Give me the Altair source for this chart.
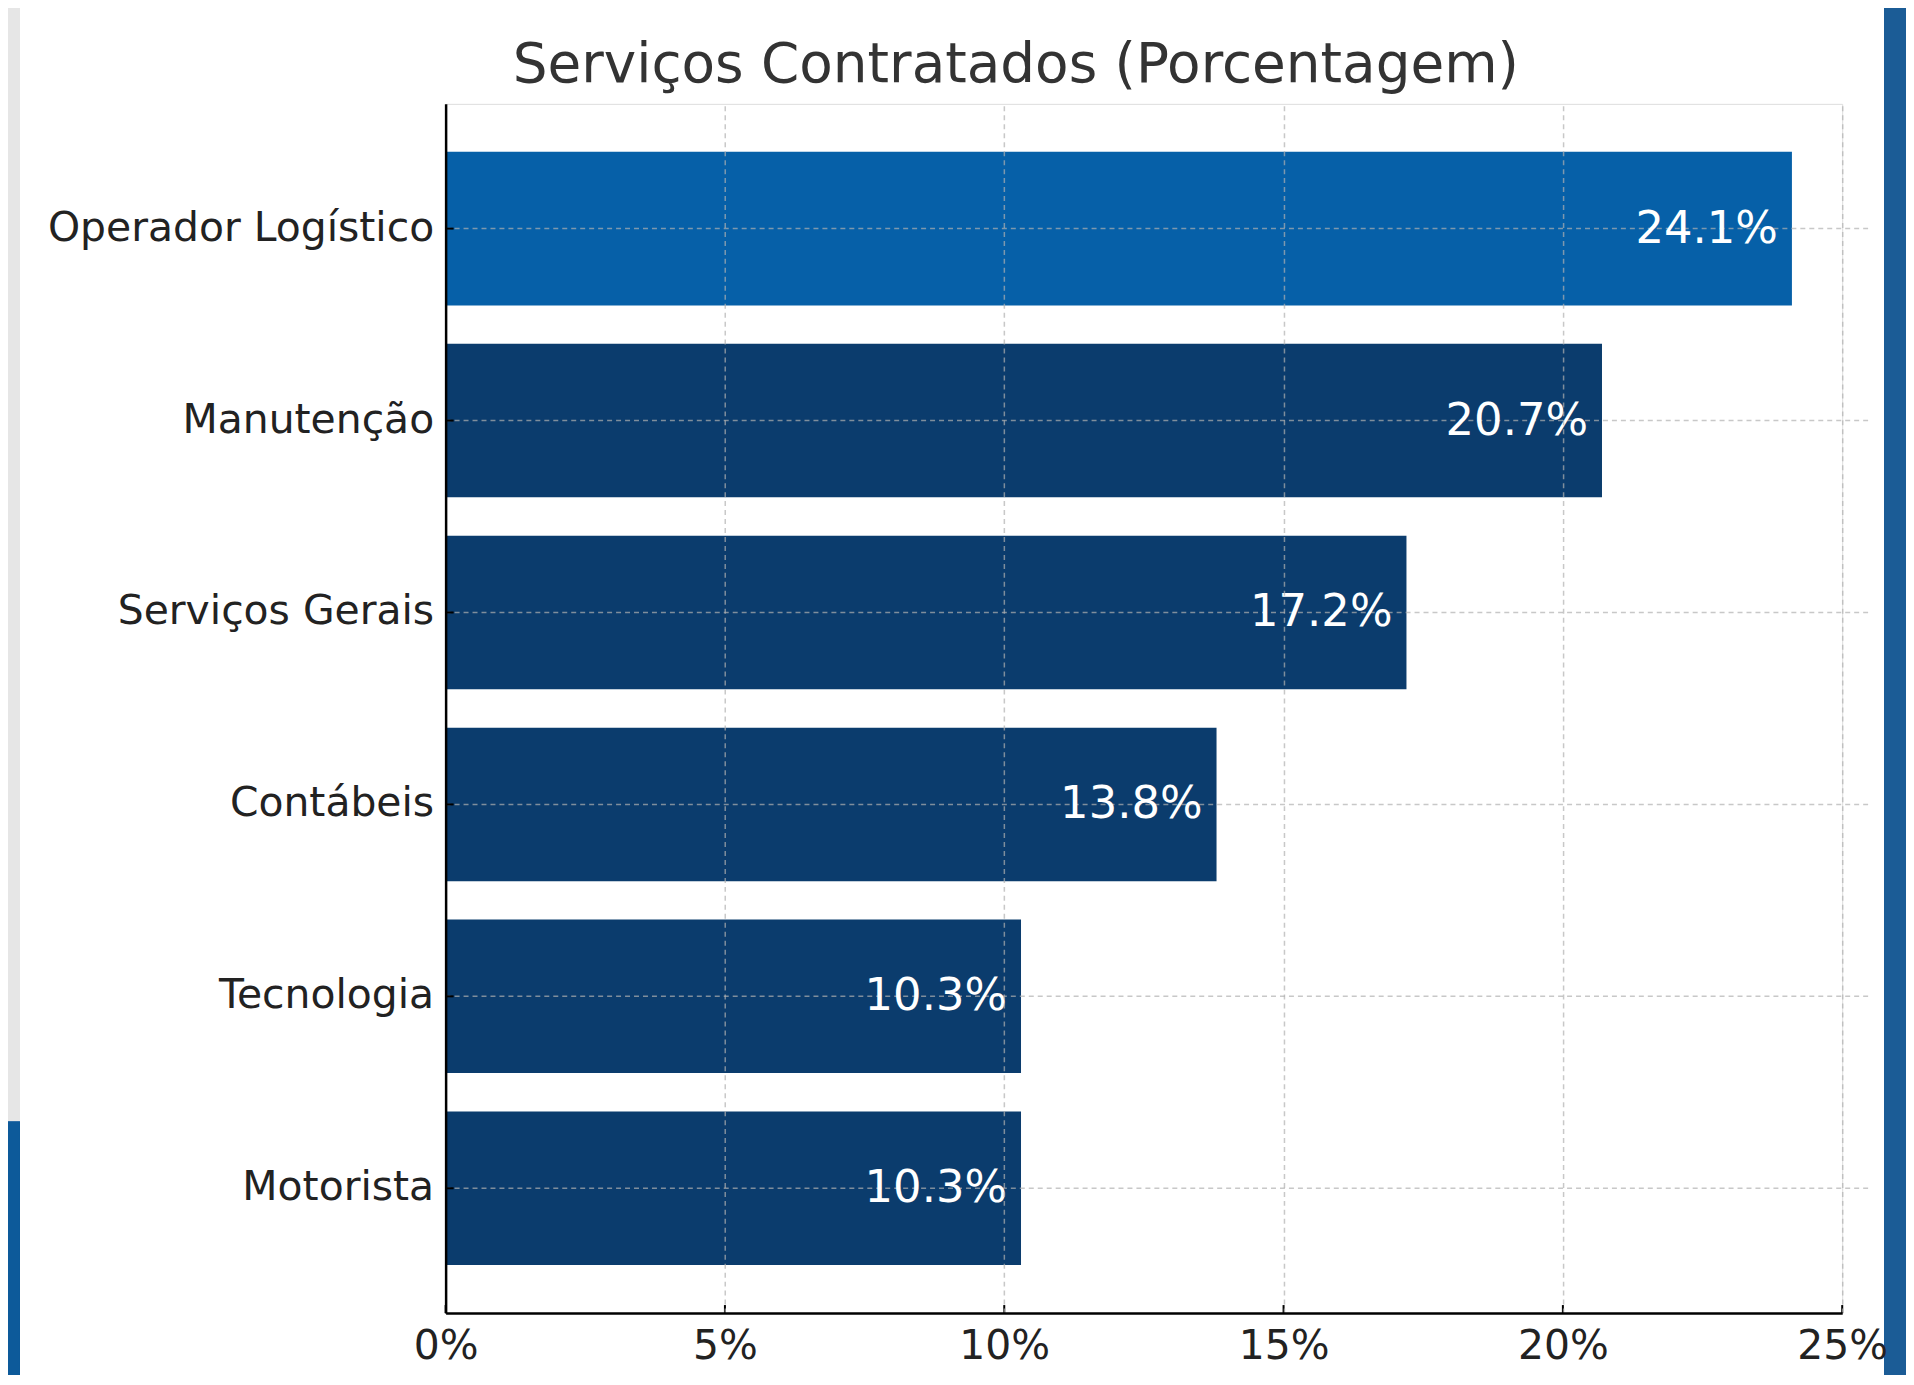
import altair as alt
import pandas as pd

categories = ["Operador Logístico", "Manutenção", "Serviços Gerais", "Contábeis", "Tecnologia", "Motorista"]
values = [24.1, 20.7, 17.2, 13.8, 10.3, 10.3]
highlight = [True, False, False, False, False, False]
x_ticks = [0, 5, 10, 15, 20, 25]
title_text = "Serviços Contratados (Porcentagem)"

df = pd.DataFrame({"cat": categories, "value": values, "hl": highlight})
ticks_df = pd.DataFrame({"t": x_ticks})
title_df = pd.DataFrame({"title": [title_text]})

W, H = 1401, 1213
FONT = "DejaVu Sans"
GRID = dict(color="#b0b0b0", opacity=0.7, strokeWidth=1.5, strokeDash=[5, 4])

y_enc = alt.Y(
    "cat:N", sort=categories, title=None,
    scale=alt.Scale(paddingInner=0.2, paddingOuter=0.25),
    axis=alt.Axis(labelFontSize=41, labelColor="#222222", labelFont=FONT, labelPadding=12,
                  labelLimit=0, tickSize=0, domainColor="#000000", domainWidth=2.5,
                  grid=False, zindex=1),
)
x_enc = alt.X(
    "value:Q", title=None,
    scale=alt.Scale(domain=[0, 25], nice=False),
    axis=alt.Axis(values=x_ticks, labelExpr="datum.value + '%'", labelFontSize=41,
                  labelColor="#222222", labelFont=FONT, labelPadding=14, tickSize=0,
                  labelFlush=False, domainColor="#000000", domainWidth=2.5,
                  grid=True, gridColor="#b0b0b0", gridOpacity=0.7, gridWidth=1.5,
                  gridDash=[5, 4], zindex=1),
)

base = alt.Chart(df)

bars = base.mark_bar().encode(
    y=y_enc,
    x=x_enc,
    color=alt.Color("hl:N", scale=alt.Scale(domain=[True, False], range=["#0660a8", "#0b3c6d"]), legend=None),
)

hgrid = base.mark_rule(**GRID).encode(
    y=alt.Y("cat:N", sort=categories),
    x=alt.value(0), x2=alt.value(W + 26),
)

labels = base.transform_calculate(
    lbl="format(datum.value, '.1f') + '%'"
).mark_text(align="right", baseline="middle", dx=-14, fontSize=45, font=FONT, color="white").encode(
    y=alt.Y("cat:N", sort=categories),
    x="value:Q",
    text="lbl:N",
)

ytick = base.mark_rule(color="#000000", strokeWidth=2).encode(
    y=alt.Y("cat:N", sort=categories),
    x=alt.value(0), x2=alt.value(8),
)

xtick = alt.Chart(ticks_df).mark_rule(color="#000000", strokeWidth=2).encode(
    x=alt.X("t:Q"),
    y=alt.value(H - 8), y2=alt.value(H),
)

title = alt.Chart(title_df).mark_text(
    fontSize=55, font=FONT, color="#333333", align="center", baseline="alphabetic"
).encode(
    x=alt.value(572), y=alt.value(-22), text="title:N"
)

# decorative page edges
deco_right = alt.Chart(df).mark_rect(color="#1b5c96").encode(
    x=alt.value(1443), x2=alt.value(1480), y=alt.value(-100), y2=alt.value(H + 80)
)
deco_left_gray = alt.Chart(df).mark_rect(color="#e6e6e6").encode(
    x=alt.value(-450), x2=alt.value(-427), y=alt.value(-100), y2=alt.value(1021)
)
deco_left_blue = alt.Chart(df).mark_rect(color="#0d5a9a").encode(
    x=alt.value(-450), x2=alt.value(-427), y=alt.value(1021), y2=alt.value(H + 80)
)

chart = alt.layer(
    deco_right, deco_left_gray, deco_left_blue, bars, hgrid, labels, ytick, xtick, title
).properties(
    width=W, height=H,
    autosize=alt.AutoSizeParams(type="none"),
    padding={"left": 439, "top": 94, "right": 64, "bottom": 60},
).configure_view(stroke=None).configure(background="white")

chart.save("out.html", embed_options={"renderer": "svg", "actions": False})
